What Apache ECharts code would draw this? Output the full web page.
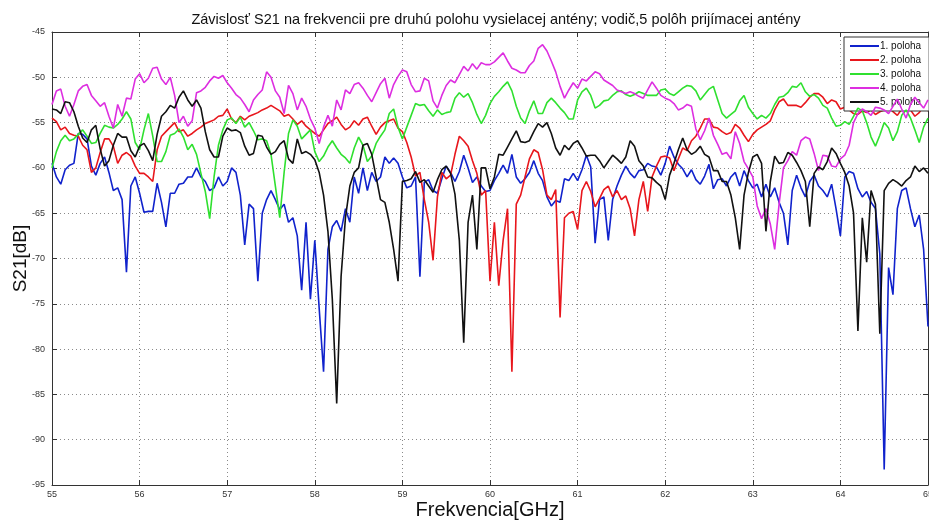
<!DOCTYPE html>
<html><head><meta charset="utf-8">
<script src="https://cdn.jsdelivr.net/npm/echarts@6/dist/echarts.min.js"></script>
<style>html,body{margin:0;padding:0;background:#fff}#c{width:929px;height:520px}</style>
</head><body><div id="c"></div>
<script>
// Frequency sampling: 55.00 ... 65.00 GHz, every 0.05 GHz
const freqStart = 55;
const freqStep = 0.05;
const seriesNames = ['1. poloha', '2. poloha', '3. poloha', '4. poloha', '5. poloha'];
const xTickValues = [55, 56, 57, 58, 59, 60, 61, 62, 63, 64, 65];
const yTickValues = [-95, -90, -85, -80, -75, -70, -65, -60, -55, -50, -45];

const s1 = [
-59.5,-61,-61.8,-60.2,-59.7,-59.5,-56.2,-56.3,-56.8,-59.8,
-60.8,-59.5,-58.8,-60.5,-62.5,-62.2,-63.5,-71.5,-62,-61,
-62.8,-64.9,-64.8,-64.8,-61.7,-63.8,-66.5,-62.8,-62.8,-61.8,
-61.7,-61,-61,-60,-61,-61.5,-62.5,-62.2,-61,-62,
-61.5,-60,-60.5,-63,-68.5,-64,-64.5,-72.5,-65,-63.5,
-62.5,-63.5,-64.6,-64,-66,-65.5,-67.5,-73.5,-66,-74.5,
-68,-75.5,-82.5,-69,-66.5,-65.8,-67,-64.5,-66,-61,
-62.8,-60,-62.5,-60.5,-61.5,-61,-58.8,-59.5,-58.9,-59.5,
-61,-62.2,-62,-61,-72,-61.6,-61.3,-62.5,-62.8,-61.2,
-59.8,-60.5,-61.5,-60.4,-58.6,-60,-61.6,-61,-62,-62.6,
-62.5,-61.4,-60.6,-59.7,-60.6,-58.5,-61,-61.7,-61.2,-60.5,
-59.2,-60.6,-61.4,-63.2,-64.2,-63.6,-63.8,-61.2,-61.4,-60.6,
-61.4,-60.2,-58.6,-59.9,-68.3,-63.5,-63.2,-68,-63.5,-62,
-60.8,-59.8,-60.6,-61.1,-60.3,-60.2,-59.5,-59.8,-59.9,-60.8,
-59.5,-57.6,-58.8,-59.6,-60.1,-61,-60.2,-61.3,-61.8,-60.9,
-59.6,-62.3,-61.3,-61.2,-62,-61,-60.5,-62,-60.3,-61.4,
-62.2,-61.8,-63.2,-61.8,-63.2,-62.2,-63.8,-65,-68.5,-62.5,
-60.8,-62.2,-63.2,-61.5,-60.8,-62,-62.5,-63.2,-61.8,-64.5,
-67.5,-61,-60.4,-60.6,-62.3,-63.2,-62.6,-63.8,-64.5,-69.5,
-93.3,-71,-74,-64.5,-62.5,-62.2,-64.5,-66.5,-65.2,-69,
-77.5];

const s2 = [
-54.5,-54.9,-55.8,-55.5,-56.2,-56.4,-56.5,-57.5,-58,-60.5,
-60,-58.3,-56.8,-56.8,-57.6,-59.5,-58.6,-58.3,-58.7,-59.8,
-60.6,-60.6,-61,-61.5,-58,-56.5,-56,-55.5,-55,-56,
-55.8,-56.5,-56.2,-55.8,-55.5,-55.1,-54.9,-54.7,-54.3,-54.2,
-53.5,-54.6,-55,-54.3,-54.7,-54.3,-54.1,-53.9,-53.6,-53.4,
-53.1,-53.4,-53.7,-54.3,-54.1,-54.6,-55.2,-54.8,-55.4,-55.8,
-56.2,-56.5,-55.8,-55.1,-54.8,-54.4,-55.2,-55.8,-55.5,-54.8,
-55.3,-54.6,-54.4,-55.4,-56.3,-55.5,-55,-54.8,-54.6,-55.6,
-56,-57.2,-58.8,-60.9,-60.5,-63.5,-66,-70.2,-63.2,-60.5,
-61.2,-60.8,-58.5,-56.5,-57,-57.6,-59.2,-60.6,-63,-62.5,
-72.5,-66,-73,-68,-64.5,-82.5,-64,-63,-61,-59,
-58,-58.3,-60.2,-63,-63.5,-62.4,-76.5,-65.5,-65,-64.8,
-66.8,-62.5,-61.5,-62.6,-64.3,-63.4,-62.4,-62,-63.2,-62.5,
-63.5,-63.1,-64.5,-67.5,-63.5,-61.5,-64.8,-61,-59.8,-58.8,
-58.7,-58.9,-60.3,-59,-57.8,-58.1,-57,-56.5,-55.6,-54.6,
-54.6,-55.5,-55.6,-56,-56.3,-56.1,-55.2,-55.6,-56.4,-57.1,
-56.3,-55.8,-55.5,-55.2,-54.8,-53.6,-52.7,-52.4,-53.1,-53.1,
-53.1,-53.3,-52.8,-52.2,-51.8,-51.8,-52.2,-52.9,-52.5,-52.7,
-53.5,-53.3,-53.6,-54,-54.1,-53.7,-53.9,-53.6,-54.1,-53.8,
-53.6,-53.2,-53.8,-54.2,-53.5,-53,-53.6,-54.3,-53.9,-53.2,
-53.7];

const s3 = [
-60,-58.2,-57,-56.4,-57,-56.8,-56.3,-55.8,-56.5,-57.3,
-57.2,-56.2,-55.3,-55.5,-55.6,-55.2,-54.6,-53.8,-54.6,-57.2,
-58,-55.8,-54,-56.5,-59.3,-59.3,-58.2,-56.4,-56.2,-55.7,
-56.6,-58,-57.4,-58.5,-60.6,-62.6,-65.6,-61,-57.5,-55.8,
-54.7,-54.5,-55.1,-54.4,-55.5,-55,-55.9,-56.9,-56.8,-57,
-58.5,-62,-65.5,-60.5,-56.2,-54.7,-55.4,-56.8,-56.3,-55.8,
-58.2,-59.3,-58.7,-57.7,-57,-57.8,-58.5,-58.9,-59.5,-57.8,
-56.6,-57.5,-59.3,-58.7,-57.3,-56.5,-55.8,-54,-53.5,-55.5,
-56.8,-55.5,-54.2,-52.9,-53.1,-53,-53.7,-54.3,-53.6,-54.1,
-53.9,-53.8,-52.3,-51.7,-52.2,-51.8,-52.8,-54.1,-55.1,-54.2,
-52.9,-52.1,-51.6,-51,-50.5,-51.5,-53.2,-54.5,-55.1,-53.7,
-52.6,-54,-54,-52.8,-52.3,-52.8,-53.4,-53.9,-54.6,-54.6,
-52.5,-51.6,-51.2,-52,-53.4,-53.1,-52.6,-52.5,-52,-51.6,
-51.5,-51.9,-52.1,-51.9,-51.6,-51.8,-52,-52,-52,-51.4,
-51.3,-51.8,-52,-51.6,-51.2,-50.9,-51,-51.5,-52.5,-51.9,
-51.3,-51,-52.5,-54,-54.5,-54.1,-53.7,-52.6,-52,-53.3,
-54,-54.6,-54.2,-54.5,-54,-53,-52.2,-52.1,-51.7,-51,
-51.1,-50.6,-51.6,-52.1,-51.9,-52.3,-53.1,-53.4,-54.5,-55.4,
-55.3,-54.9,-55.2,-54.3,-53.4,-53.7,-55,-56.6,-57.6,-56.4,
-55,-55.6,-57,-56,-54.2,-53.6,-54.5,-55.8,-57.2,-55.5,
-54.5];

const s4 = [
-53,-51.5,-51.3,-53.2,-54.3,-53,-51.5,-51,-50.8,-52,
-52.6,-53.2,-52.8,-54.3,-55.6,-53,-54.3,-52.3,-52.4,-50.2,
-49.6,-50.6,-50.1,-49,-48.9,-50.2,-50.8,-50,-52,-55,
-54.3,-55.4,-54.8,-51.7,-51.5,-51.1,-50.4,-49.9,-50.1,-49.8,
-50.6,-51.2,-51.9,-52.3,-53,-53.8,-52.5,-51.9,-51.4,-49.4,
-50,-51.5,-52.2,-54,-50.9,-51.8,-53.6,-52.3,-53.2,-54.6,
-55.6,-57.3,-55.5,-54.2,-55.4,-52.5,-53.6,-51.4,-51.8,-50.8,
-50.6,-51.2,-52,-52.7,-51.7,-50.7,-50.1,-52.3,-50.8,-49.9,
-49.2,-49.4,-50.8,-51.6,-51.5,-50.1,-50.4,-52.6,-53.4,-52,
-50.9,-50.3,-50.6,-49.7,-48.8,-49.3,-48.5,-49.1,-48.4,-48.6,
-48.6,-48.3,-47.8,-47.3,-48.2,-49,-49.2,-49.5,-49.5,-48.7,
-48.2,-46.8,-46.4,-47.1,-48.2,-49.4,-51,-52.3,-51.4,-50.6,
-51.2,-50.2,-50.4,-49.9,-49.4,-49.6,-50.3,-50.6,-50.9,-51.4,
-51.6,-51.8,-51.6,-51.8,-52.1,-52.3,-51.4,-50.5,-51.2,-52,
-52.3,-52.5,-52.9,-53.6,-53.4,-53,-53.2,-55.7,-56.9,-55.9,
-54.5,-56.4,-57.4,-58.5,-58.3,-59,-56,-57.3,-59.3,-60.1,
-61,-64.2,-65.6,-64.5,-66.2,-69,-64,-60,-59.2,-58.2,
-58.6,-57,-56.6,-56.8,-58.4,-60.3,-58.6,-58.7,-59.8,-59.9,
-59,-58.6,-57.5,-55,-54,-53.5,-53.8,-54.2,-53.3,-53.4,
-53.6,-54,-53.2,-52.4,-53.5,-54.5,-53,-52.2,-52.8,-53.4,
-52.5];

const s5 = [
-53.5,-53.6,-54,-52.7,-52.8,-53.8,-55.4,-56.7,-57.2,-55.8,
-55.3,-57.9,-59.8,-59.2,-57.5,-56.2,-56.6,-56.6,-58.1,-58.8,
-57.6,-57.3,-58.1,-59.2,-56.3,-54.3,-53.8,-53.1,-53.4,-52.2,
-51.5,-52.5,-53.2,-52.5,-53.4,-56,-58,-58.8,-58.8,-56.5,
-55.6,-55.9,-55.8,-56.1,-57.6,-58.6,-58.4,-56.4,-56.5,-57.7,
-58.5,-58.2,-57.4,-57,-59,-59.5,-56.8,-58.4,-58.2,-58.5,
-59.1,-60.5,-63,-67,-74.5,-86,-72,-65.5,-62,-60.5,
-60,-57.5,-57.3,-58.5,-61,-63.5,-63.8,-66,-69,-72.5,
-61.5,-61.4,-61.2,-60.4,-61.6,-61.3,-62,-62.7,-61.3,-60.2,
-59.8,-60.6,-62.9,-68,-79.3,-66,-63,-69,-60,-60,
-62.3,-61,-58.5,-58.6,-57.7,-56.8,-55.9,-57.1,-57.2,-57,
-56,-55.1,-55.5,-55,-56.2,-57.8,-58.6,-57.5,-58,-57.3,
-57,-57.8,-58.7,-58.6,-58.6,-59.2,-60,-59.3,-58.6,-59,
-59.5,-58.8,-57,-57.6,-59.2,-59.8,-61,-61.1,-61.6,-62,
-63.5,-60.8,-59.5,-58,-56.7,-58,-58.5,-58.2,-57.6,-58.5,
-58.8,-60.3,-60.3,-61.5,-61.5,-63,-65.5,-69,-63,-60.5,
-58.8,-58.5,-59.5,-67,-61.5,-58.7,-59.5,-59.4,-58.3,-58.6,
-59.4,-60.3,-61.5,-66.5,-60.6,-59.9,-60.2,-59.3,-57.8,-58.4,
-59.5,-60.5,-62,-65,-78,-65.5,-70.4,-62.5,-64,-78.3,
-62.5,-61.7,-61.3,-61.6,-62,-61.4,-61,-59.8,-60.4,-60,
-60.6];

const seriesValues = [s1, s2, s3, s4, s5];
const seriesColors = ['#1022cc', '#e8161c', '#2fe02f', '#dd2ee0', '#111111'];

const FONT = "'Liberation Sans', Arial, sans-serif";
const NARROW = "'Liberation Sans Narrow', 'Liberation Sans', Arial, sans-serif";

function pairs(arr) {
  return arr.map((v, i) => [Math.round((freqStart + i * freqStep) * 100) / 100, v]);
}

const chart = echarts.init(document.getElementById('c'), null, {renderer: 'canvas'});
const gridLine = {show: true, lineStyle: {color: '#8a8a8a', width: 1, type: [1, 3]}};
const axisLineStyle = {show: true, lineStyle: {color: '#333', width: 1}};

chart.setOption({
  animation: false,
  backgroundColor: '#fff',
  title: {
    text: 'Závislosť S21 na frekvencii pre druhú polohu vysielacej antény; vodič,5 polôh prijímacej antény',
    left: 491, top: 7, textAlign: 'center',
    textStyle: {fontSize: 14.5, fontWeight: 'normal', color: '#111', fontFamily: FONT}
  },
  legend: {
    orient: 'vertical', left: 844, top: 37,
    icon: 'rect', itemWidth: 29, itemHeight: 2, itemGap: 4,
    padding: [4, 8, 4, 6],
    backgroundColor: '#fff', borderColor: '#333', borderWidth: 1,
    textStyle: {fontSize: 10, color: '#111', fontFamily: FONT, padding: [0, 0, 0, -4]},
    data: seriesNames
  },
  grid: {left: 52, right: 1, top: 32, bottom: 35, containLabel: false, outerBoundsMode: 'none'},
  xAxis: [{
    type: 'value', position: 'bottom', min: xTickValues[0], max: xTickValues[xTickValues.length - 1], interval: 1,
    axisLine: axisLineStyle,
    axisTick: {show: true, inside: true, length: 5, lineStyle: {color: '#333'}},
    axisLabel: {fontSize: 9, color: '#333', margin: 5, fontFamily: NARROW, showMaxLabel: true, showMinLabel: true, hideOverlap: false},
    splitLine: gridLine,
    name: 'Frekvencia[GHz]', nameLocation: 'middle', nameGap: 15, nameMoveOverlap: false,
    nameTextStyle: {fontSize: 20, color: '#111', fontFamily: FONT}
  }, {
    type: 'value', position: 'top', min: xTickValues[0], max: xTickValues[xTickValues.length - 1], interval: 1,
    axisLine: axisLineStyle,
    axisTick: {show: true, inside: true, length: 5, lineStyle: {color: '#333'}},
    axisLabel: {show: false}, splitLine: {show: false}
  }],
  yAxis: [{
    type: 'value', position: 'left', min: yTickValues[0], max: yTickValues[yTickValues.length - 1], interval: 5,
    axisLine: axisLineStyle,
    axisTick: {show: true, inside: true, length: 5, lineStyle: {color: '#333'}},
    axisLabel: {fontSize: 9, color: '#333', margin: 7, fontFamily: NARROW},
    splitLine: gridLine,
    name: 'S21[dB]', nameLocation: 'middle', nameGap: 22, nameMoveOverlap: false,
    nameTextStyle: {fontSize: 19, color: '#111', fontFamily: FONT}
  }, {
    type: 'value', position: 'right', min: yTickValues[0], max: yTickValues[yTickValues.length - 1], interval: 5,
    axisLine: axisLineStyle,
    axisTick: {show: true, inside: true, length: 5, lineStyle: {color: '#333'}},
    axisLabel: {show: false}, splitLine: {show: false}
  }],
  series: seriesValues.map((vals, i) => ({
    name: seriesNames[i], type: 'line', xAxisIndex: 0, yAxisIndex: 0,
    data: pairs(vals), showSymbol: false, symbol: 'none',
    lineStyle: {color: seriesColors[i], width: 1.6},
    itemStyle: {color: seriesColors[i]},
    clip: true, z: 2 + i
  }))
});
</script>
</body></html>
